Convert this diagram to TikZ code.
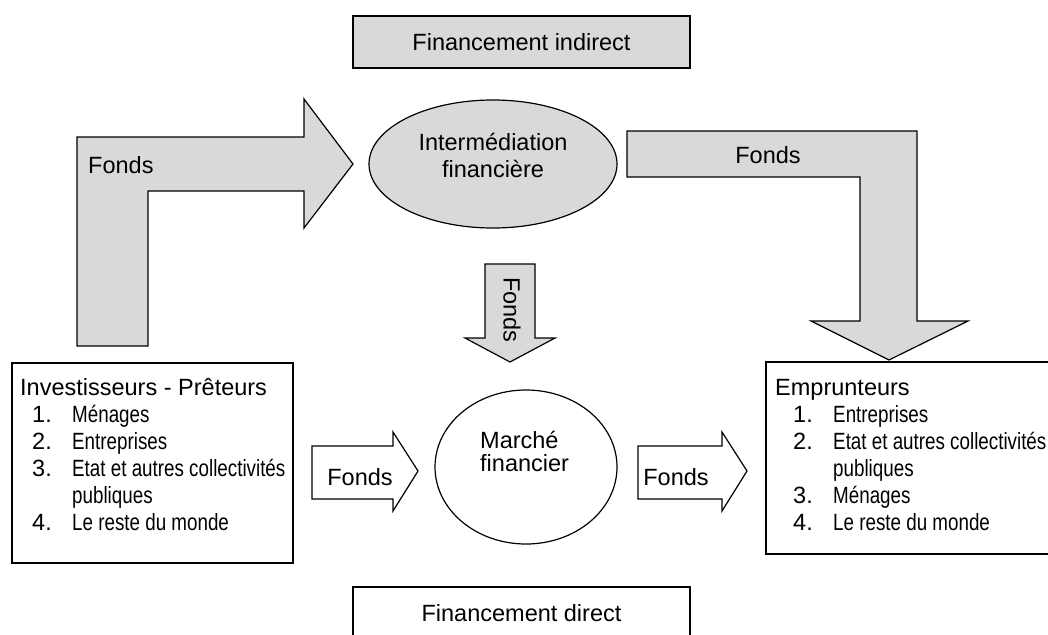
\documentclass[tikz,border=0pt]{standalone}
\usepackage{fontspec}
\setmainfont{Liberation Sans}
\newfontfamily\narrowsf[FakeStretch=0.80]{Liberation Sans}
\usetikzlibrary{shapes.geometric}
\newcommand{\listline}[3][12pt]{\hspace*{#1}\makebox[40pt][l]{#2}{\narrowsf #3}}

\begin{document}
\begin{tikzpicture}[x=1pt, y=-1pt,
    font=\fontsize{23.5}{27}\selectfont,
    flow/.style={draw, line width=1.2pt, fill=gray!30, line join=miter},
    greybox/.style={draw, line width=1.2pt, fill=gray!30, minimum width=337pt, minimum height=52pt},
    whitebox/.style={draw, line width=1.2pt, fill=white},
    lbl/.style={inner sep=0pt}]
            \useasboundingbox (0,0) rectangle (1048,634);
            % boxes
            \node [greybox] (indirect) at (521.5,42) {Financement indirect};
            \node [whitebox, minimum width=337pt, minimum height=52pt] (direct) at (521.5,613) {Financement direct};
            \node [whitebox, minimum width=281pt, minimum height=200pt] (preteurs) at (152.5,463) {};
            \node [whitebox, minimum width=289pt, minimum height=192pt] (emprunteurs) at (910.5,458) {};
            \node [ellipse, draw, line width=1.2pt, fill=gray!30, minimum width=248pt, minimum height=128pt, inner sep=0pt] (intermed) at (493,164) {};
            \node [ellipse, draw, line width=1.2pt, fill=white, minimum width=182pt, minimum height=154pt, inner sep=0pt] (marche) at (526,467) {};
            % texts
            \node [lbl, anchor=base] (intermedtext) at (493,150) {\begin{tabular}[t]{@{}c@{}}Intermédiation\\financière\end{tabular}};
            \node [lbl, anchor=base west, font=\fontsize{23.5}{22}\selectfont] (marchetext) at (480,448) {\begin{tabular}[t]{@{}l@{}}Marché\\financier\end{tabular}};
            \node [lbl, anchor=base west] (preteurstext) at (20,395) {\begin{tabular}[t]{@{}l@{}}
                Investisseurs - Prêteurs\\
                \listline{1.}{Ménages}\\
                \listline{2.}{Entreprises}\\
                \listline{3.}{Etat et autres collectivités}\\
                \listline{}{publiques}\\
                \listline{4.}{Le reste du monde}
            \end{tabular}};
            \node [lbl, anchor=base west] (emprunteurstext) at (775,395) {\begin{tabular}[t]{@{}l@{}}
                Emprunteurs\\
                \listline[18pt]{1.}{Entreprises}\\
                \listline[18pt]{2.}{Etat et autres collectivités}\\
                \listline[18pt]{}{publiques}\\
                \listline[18pt]{3.}{Ménages}\\
                \listline[18pt]{4.}{Le reste du monde}
            \end{tabular}};
            % block arrows
            \draw [flow] (77,346) -- (77,137) -- (304,137) -- (304,99) -- (353,164) -- (304,228) -- (304,191) -- (148,191) -- (148,346) -- cycle;
            \draw [flow] (627,131) -- (917,131) -- (917,321) -- (968,321) -- (889,360) -- (811,321) -- (860,321) -- (860,177) -- (627,177) -- cycle;
            \draw [flow] (485,264) -- (535,264) -- (535,338) -- (555,338) -- (510,362) -- (465,338) -- (485,338) -- cycle;
            \draw [flow, fill=white] (312,446) -- (393,446) -- (393,432) -- (418,471) -- (393,511) -- (393,499) -- (312,499) -- cycle;
            \draw [flow, fill=white] (638,446) -- (722,446) -- (722,432) -- (747,471) -- (722,511) -- (722,499) -- (638,499) -- cycle;
            \node [lbl, anchor=base west] (fondsup) at (88,173) {Fonds};
            \node [lbl, anchor=base] (fondsright) at (768,163) {Fonds};
            \node [lbl, rotate=-90] (fondsdown) at (512,310) {Fonds};
            \node [lbl, anchor=base] (fondsin) at (360,485) {Fonds};
            \node [lbl, anchor=base] (fondsout) at (676,485) {Fonds};
        \end{tikzpicture}
\end{document}
